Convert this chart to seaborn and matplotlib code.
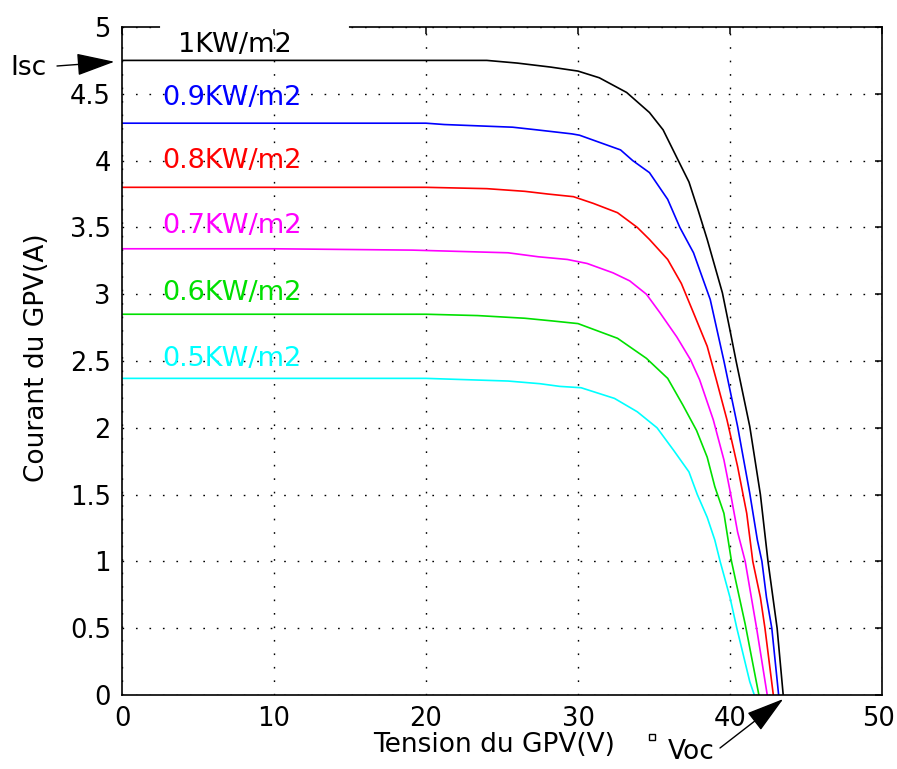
import matplotlib
matplotlib.use("Agg")
import matplotlib.pyplot as plt
import matplotlib.transforms as mtransforms
from matplotlib.lines import Line2D
import seaborn as sns
import pandas as pd

# ---- data ----
irradiance = ["1KW/m2", "0.9KW/m2", "0.8KW/m2", "0.7KW/m2", "0.6KW/m2", "0.5KW/m2"]

v_1000 = [0, 10, 20, 24, 26, 28.2, 30, 31.4, 33.2, 34.7, 35.6, 36.6, 37.3, 37.9, 38.5, 39.5, 40.0, 40.4, 41.3, 42.0, 42.5, 43.1, 43.5]
i_1000 = [4.75, 4.75, 4.75, 4.75, 4.73, 4.70, 4.67, 4.62, 4.51, 4.36, 4.23, 4.00, 3.84, 3.63, 3.41, 3.01, 2.73, 2.50, 2.01, 1.50, 1.00, 0.50, 0.0]

v_900 = [0, 10, 20, 21.2, 25.7, 27.3, 29.6, 30.1, 32.8, 33.6, 34.7, 35.9, 36.7, 37.6, 38.7, 39.6, 40.5, 41.3, 41.8, 42.1, 42.4, 42.75, 43.2]
i_900 = [4.28, 4.28, 4.28, 4.27, 4.25, 4.23, 4.20, 4.19, 4.08, 4.00, 3.91, 3.71, 3.50, 3.31, 2.96, 2.50, 2.01, 1.51, 1.16, 1.00, 0.73, 0.50, 0.0]

v_800 = [0, 10, 20, 24.0, 26.5, 28.0, 29.7, 31.0, 32.6, 33.9, 34.7, 35.9, 36.8, 37.6, 38.5, 39.1, 39.8, 40.5, 41.1, 41.5, 42.0, 42.3, 42.85]
i_800 = [3.80, 3.80, 3.80, 3.79, 3.77, 3.75, 3.73, 3.68, 3.61, 3.50, 3.41, 3.26, 3.08, 2.86, 2.61, 2.36, 2.06, 1.71, 1.36, 1.00, 0.73, 0.50, 0.0]

v_700 = [0, 10, 19.1, 25.4, 27.4, 29.3, 30.6, 32.3, 33.4, 34.5, 35.4, 36.5, 37.4, 38.0, 38.9, 39.6, 40.05, 40.5, 41.0, 41.75, 42.45]
i_700 = [3.34, 3.34, 3.33, 3.31, 3.28, 3.26, 3.23, 3.16, 3.10, 3.00, 2.86, 2.68, 2.51, 2.36, 2.06, 1.76, 1.50, 1.22, 1.00, 0.50, 0.0]

v_600 = [0, 10, 20, 23.4, 26.5, 28.3, 30.0, 32.6, 34.5, 35.9, 36.9, 37.8, 38.5, 39.0, 39.6, 40.1, 41.0, 41.9]
i_600 = [2.85, 2.85, 2.85, 2.84, 2.82, 2.80, 2.78, 2.67, 2.52, 2.37, 2.17, 1.98, 1.78, 1.56, 1.36, 1.00, 0.53, 0.0]

v_500 = [0, 10, 20, 25.4, 27.5, 28.8, 30.2, 32.4, 33.9, 35.2, 36.3, 37.3, 37.85, 38.5, 39.0, 39.35, 40.0, 40.45, 41.3, 41.6]
i_500 = [2.37, 2.37, 2.37, 2.35, 2.33, 2.31, 2.30, 2.22, 2.12, 2.00, 1.83, 1.67, 1.50, 1.33, 1.16, 1.00, 0.73, 0.50, 0.10, 0.0]

x_ticks = [0, 10, 20, 30, 40, 50]
y_ticks = [0, 0.5, 1, 1.5, 2, 2.5, 3, 3.5, 4, 4.5, 5]
y_tick_labels = ["0", "0.5", "1", "1.5", "2", "2.5", "3", "3.5", "4", "4.5", "5"]

# ---- build long table ----
volts = [v_1000, v_900, v_800, v_700, v_600, v_500]
amps = [i_1000, i_900, i_800, i_700, i_600, i_500]
rows = []
for name, vv, ii in zip(irradiance, volts, amps):
    for v, i in zip(vv, ii):
        rows.append({"G": name, "V": v, "I": i})
df = pd.DataFrame(rows)

colors = ["#000000", "#0000ff", "#ff0000", "#ff00ff", "#00e000", "#00ffff"]
palette = dict(zip(irradiance, colors))

sns.set_theme(style="white")
plt.rcParams["font.family"] = ["DejaVu Sans"]

fig = plt.figure(figsize=(8.97, 7.69), dpi=100)
ax = fig.add_axes([122 / 897, 1 - 695 / 769, 760 / 897, 668 / 769])

sns.lineplot(data=df, x="V", y="I", hue="G", palette=palette, sort=False,
             estimator=None, units="G", legend=False, linewidth=1.2, ax=ax)

ax.set_xlim(0, 50)
ax.set_ylim(0, 5)
ax.set_xticks(x_ticks)
ax.set_xticklabels([str(t) for t in x_ticks])
ax.set_yticks(y_ticks)
ax.set_yticklabels(y_tick_labels)
ax.tick_params(direction="in", length=5, width=1.1, labelsize=18.5, pad=8,
               top=True, right=True, colors="black")
for s in ax.spines.values():
    s.set_color("black")
    s.set_linewidth(1.2)
    s.set_visible(True)

# keep the last x tick label inside the picture
shift = mtransforms.ScaledTranslation(-4 / 100, 0, fig.dpi_scale_trans)
last_lab = ax.get_xticklabels()[-1]
last_lab.set_transform(last_lab.get_transform() + shift)

ax.grid(True, linestyle=(0, (1.2, 8.5)), color="black", linewidth=1.0)
ax.set_axisbelow(True)

ax.set_xlabel("Tension du GPV(V)", fontsize=19, color="black")
ax.set_ylabel("Courant du GPV(A)", fontsize=19, color="black")
ax.xaxis.set_label_coords(0.489, -0.056)
ax.yaxis.set_label_coords(-0.095, 0.505)

# curve labels
label_pos = [(3.68, 4.865), (2.63, 4.47), (2.63, 4.00), (2.63, 3.51), (2.63, 3.01), (2.63, 2.515)]
for name, (lx, ly), c in zip(irradiance, label_pos, colors):
    ax.text(lx, ly, name, color=c, fontsize=19.5, ha="left", va="center")

# gap in the top frame (as in the reference)
ax.axhline(5, xmin=0.0526, xmax=0.296, color="white", lw=3, clip_on=False, zorder=3)

# Isc arrow
fig.text(10 / 897, 1 - 68 / 769, "Isc", fontsize=19, ha="left", va="center", color="black")
ax.annotate("", xy=(-0.5, 4.74), xycoords="data",
            xytext=(57, 769 - 66), textcoords="figure pixels",
            arrowprops=dict(arrowstyle="-|>,head_length=1.2,head_width=0.35",
                            color="black", lw=1, mutation_scale=20,
                            shrinkA=0, shrinkB=0),
            annotation_clip=False)

# Voc arrow
fig.text(668 / 897, 1 - 752 / 769, "Voc", fontsize=19, ha="left", va="center", color="black")
ax.annotate("", xy=(43.5, -0.03), xycoords="data",
            xytext=(720, 769 - 748), textcoords="figure pixels",
            arrowprops=dict(arrowstyle="-|>,head_length=1.2,head_width=0.35",
                            color="black", lw=1, mutation_scale=20,
                            shrinkA=0, shrinkB=0),
            annotation_clip=False)
fig.add_artist(Line2D([652 / 897], [1 - 737 / 769], marker="s", markersize=4,
                      markerfacecolor="none", markeredgecolor="black",
                      markeredgewidth=1, transform=fig.transFigure))

fig.savefig("out.png", dpi=100, facecolor="white")
